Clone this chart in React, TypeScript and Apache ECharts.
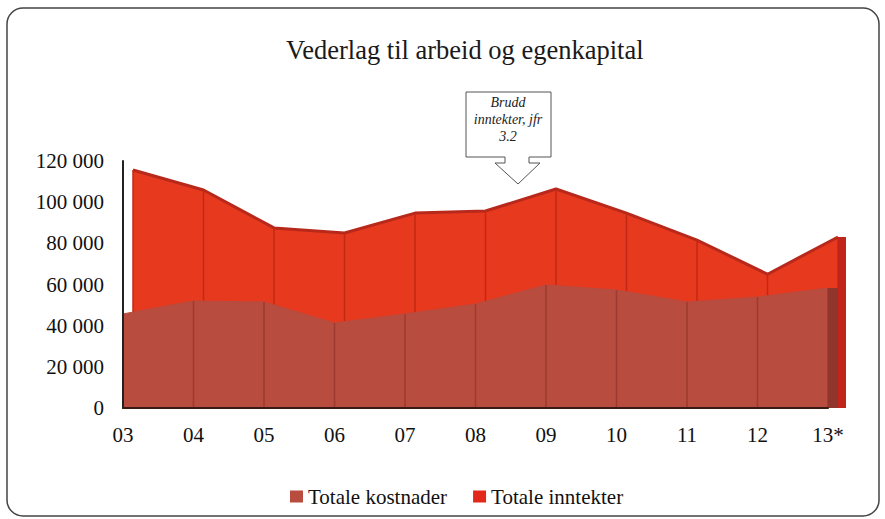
import React, { useEffect, useRef } from "react";
import * as echarts from "echarts";

const categories = ["03", "04", "05", "06", "07", "08", "09", "10", "11", "12", "13*"];
const kostnader = [45700, 52000, 51500, 41300, 45700, 50500, 59800, 57300, 51500, 53900, 58300];
const inntekter = [115600, 105900, 87500, 85000, 94700, 95700, 106400, 94700, 81600, 65000, 83100];
const yTicks = { min: 0, max: 120000, interval: 20000 };

const SERIF = "Liberation Serif, Times New Roman, serif";

const fmt = (v: number) => (v === 0 ? "0" : String(v).replace(/\B(?=(\d{3})+(?!\d))/g, " "));

function makeRender(lineColor: string, sideColor: string, sideWidth: number, count: number) {
  return (params: any, api: any) => {
    const idx = api.value(0);
    const val = api.value(1);
    const top = api.coord([idx, val]);
    const base = api.coord([idx, 0]);
    const children: any[] = [
      {
        type: "line",
        shape: { x1: top[0], y1: top[1], x2: base[0], y2: base[1] },
        style: { stroke: lineColor, lineWidth: 1.5 },
      },
    ];
    if (idx === count - 1) {
      children.push({
        type: "rect",
        shape: { x: top[0], y: top[1], width: sideWidth, height: base[1] - top[1] },
        style: { fill: sideColor },
      });
    }
    return { type: "group", children };
  };
}

export default function App() {
  const ref = useRef<HTMLDivElement>(null);
  useEffect(() => {
    if (!ref.current) return;
    const chart = echarts.init(ref.current, undefined, { renderer: "svg" });
    const n = categories.length;
    const option: any = {
      animation: false,
      backgroundColor: "#ffffff",
      title: {
        text: "Vederlag til arbeid og egenkapital",
        left: 281,
        top: 31,
        textStyle: { fontFamily: SERIF, fontSize: 26.5, fontWeight: "normal", color: "#1a1a1a" },
      },
      legend: {
        top: 481,
        left: 285,
        icon: "rect",
        itemWidth: 13,
        itemHeight: 12,
        itemGap: 26,
        textStyle: { fontFamily: SERIF, fontSize: 21, color: "#111" },
        data: ["Totale kostnader", "Totale inntekter"],
      },
      grid: [
        { left: 123, right: 57, top: 161, bottom: 111 },
        { left: 133, right: 47, top: 161, bottom: 111 },
      ],
      xAxis: [
        {
          type: "category",
          gridIndex: 0,
          data: categories,
          boundaryGap: false,
          axisLine: { lineStyle: { color: "#3a1a12", width: 2 } },
          axisTick: { show: false },
          axisLabel: {
            fontFamily: SERIF,
            fontSize: 21,
            color: "#111",
            margin: 16,
          },
          splitLine: { show: false },
          z: 10,
        },
        {
          type: "category",
          gridIndex: 1,
          data: categories,
          boundaryGap: false,
          show: false,
        },
      ],
      yAxis: [
        {
          type: "value",
          gridIndex: 0,
          ...yTicks,
          axisLine: { show: true, lineStyle: { color: "#222", width: 2 } },
          axisTick: { show: false },
          splitLine: { show: false },
          axisLabel: { fontFamily: SERIF, fontSize: 21, color: "#111", margin: 19, formatter: fmt },
          z: 10,
        },
        { type: "value", gridIndex: 1, ...yTicks, show: false },
      ],
      graphic: [
        {
          type: "rect",
          shape: { x: 7, y: 8, width: 872, height: 508, r: 16 },
          style: { fill: "none", stroke: "#444", lineWidth: 1.5 },
          z: 100,
        },
        {
          type: "polygon",
          shape: {
            points: [
              [466, 92], [551, 92], [551, 157], [529, 157], [529, 163], [540, 163],
              [518, 184], [495, 163], [505, 163], [505, 157], [466, 157],
            ],
          },
          style: { fill: "#ffffff", stroke: "#555", lineWidth: 1 },
          z: 100,
        },
        {
          type: "text",
          x: 508,
          y: 94,
          style: {
            text: "Brudd\ninntekter, jfr\n3.2",
            align: "center",
            verticalAlign: "top",
            fontFamily: SERIF,
            fontStyle: "italic",
            fontSize: 14,
            lineHeight: 17,
            fill: "#222",
          },
          z: 101,
        },
      ],
      series: [
        {
          name: "Totale inntekter",
          type: "line",
          xAxisIndex: 1,
          yAxisIndex: 1,
          data: inntekter,
          symbol: "none",
          color: "#e2281a",
          lineStyle: { color: "#b8291b", width: 3 },
          areaStyle: { color: "#e6391e", opacity: 1 },
          z: 1,
        },
        {
          type: "custom",
          xAxisIndex: 1,
          yAxisIndex: 1,
          data: inntekter.map((v, i) => [i, v]),
          renderItem: makeRender("#c22816", "#c0241a", 8, n),
          z: 2,
          silent: true,
        },
        {
          name: "Totale kostnader",
          type: "line",
          xAxisIndex: 0,
          yAxisIndex: 0,
          data: kostnader,
          symbol: "none",
          color: "#b84c3f",
          lineStyle: { color: "#b84c3f", width: 1 },
          areaStyle: { color: "#b84c3f", opacity: 1 },
          z: 3,
        },
        {
          type: "custom",
          xAxisIndex: 0,
          yAxisIndex: 0,
          data: kostnader.map((v, i) => [i, v]),
          renderItem: makeRender("#9e3a30", "#8f352b", 10, n),
          z: 4,
          silent: true,
        },
      ],
    };
    chart.setOption(option);
    return () => chart.dispose();
  }, []);
  return (
    <div
      ref={ref}
      style={{ position: "fixed", left: 0, top: 0, width: 885, height: 519, background: "#fff" }}
    />
  );
}
